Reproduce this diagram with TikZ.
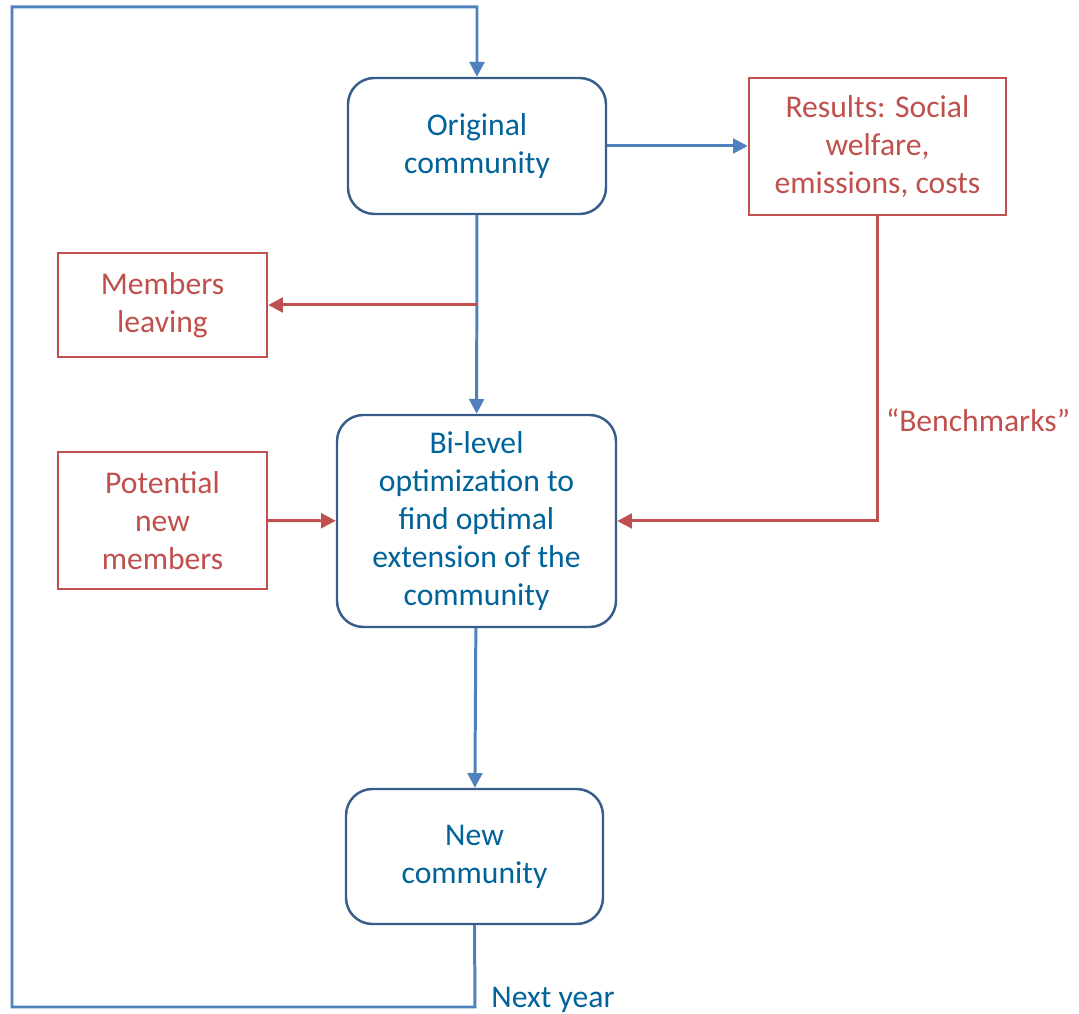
\documentclass[tikz,border=0pt]{standalone}
\usepackage{fontspec}
\setmainfont{Carlito}
\usepackage{tikz}
\usetikzlibrary{arrows.meta, positioning, calc}
\definecolor{myblue}{RGB}{79,129,189}
\definecolor{myframe}{RGB}{56,93,138}
\definecolor{mytext}{RGB}{0,99,153}
\definecolor{myred}{RGB}{192,80,77}
\tikzset{
  stage/.style={rectangle, draw=myframe, fill=white, text=mytext,
    align=center, rounded corners=7.5pt, line width=0.7pt,
    font=\fontsize{9}{10.8}\selectfont},
  info/.style={rectangle, draw=myred, fill=white, text=myred,
    align=center, line width=0.7pt,
    font=\fontsize{9}{10.8}\selectfont},
  bluearrow/.style={-{Triangle[length=4.2pt, width=4.2pt]}, line width=0.85pt, color=myblue},
  redarrow/.style={-{Triangle[length=4.2pt, width=4.2pt]}, line width=0.85pt, color=myred}
}
\begin{document}
\begin{tikzpicture}
  \useasboundingbox (0,0) rectangle (10.79,-10.14);

  % Community stages (blue, rounded)
  \node[stage, minimum width=2.58cm, minimum height=1.36cm] (orig) at (4.77,-1.46) {Original\\community};
  \node[stage, minimum width=2.79cm, minimum height=2.12cm] (opt) at (4.765,-5.21) {Bi-level\\optimization to\\find optimal\\extension of the\\community};
  \node[stage, minimum width=2.57cm, minimum height=1.35cm] (new) at (4.745,-8.565) {New\\community};

  % Inputs and outputs (red)
  \node[info, minimum width=2.57cm, minimum height=1.37cm] (res) at (8.775,-1.465) {Results: Social\\welfare,\\emissions, costs};
  \node[info, minimum width=2.09cm, minimum height=1.04cm] (leave) at (1.625,-3.05) {Members\\leaving};
  \node[info, minimum width=2.09cm, minimum height=1.37cm] (pot) at (1.625,-5.205) {Potential\\new\\members};

  % Helper points
  \coordinate (split) at (4.77,-3.05);
  \coordinate (loopA) at (4.75,-10.07);
  \coordinate (loopB) at (0.12,-10.07);
  \coordinate (loopC) at (0.12,-0.07);
  \coordinate (loopD) at (4.77,-0.07);
  \coordinate (bench) at (8.775,-5.21);

  % Connections
  \draw[bluearrow] (orig.east) -- (res.west |- orig.east);
  \draw[bluearrow] (orig) -- (opt);
  \draw[redarrow] (split) -- (leave);
  \draw[redarrow] (pot) -- (opt);
  \draw[redarrow] (res) -- (bench) -- (opt.east);
  \draw[bluearrow] (opt) -- (new);
  \draw[bluearrow] (new.south) -- (loopA) -- (loopB) -- (loopC) -- (loopD) -- (orig.north);

  % Labels
  \node[text=myred, font=\fontsize{9}{10.8}\selectfont] (benchlbl) at (9.78,-4.20) {``Benchmarks''};
  \node[text=mytext, font=\fontsize{9}{10.8}\selectfont] (nextlbl) at (5.53,-10.0) {Next year};
\end{tikzpicture}
\end{document}
